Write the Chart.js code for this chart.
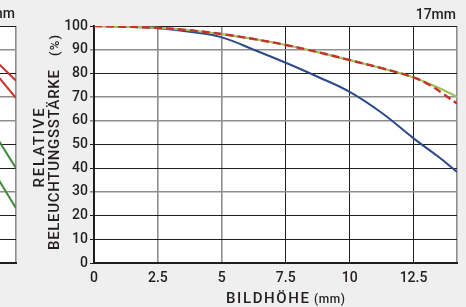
<!DOCTYPE html>
<html><head><meta charset="utf-8">
<script src="https://cdn.jsdelivr.net/npm/chart.js@4/dist/chart.umd.min.js"></script>
<style>
html,body{margin:0;padding:0;background:#efefef;overflow:hidden;}
#wrap{position:relative;width:466px;height:307px;overflow:hidden;background:#efefef;}
#main{position:absolute;left:0;top:0;}
#frag{position:absolute;left:-375px;top:0;}
</style></head>
<body><div id="wrap">
<canvas id="frag" width="400" height="307"></canvas>
<canvas id="main" width="466" height="307"></canvas>
</div>
<script>
// ---- data ----
const xTickValues = [0, 2.5, 5, 7.5, 10, 12.5];
const xMax = 14.2;
const yTickStep = 10;
const blueX = [0, 1.25, 2.5, 3.75, 5, 6.25, 7.5, 8.75, 10, 11.25, 12.5, 13.5, 14.2];
const blueY = [100, 99.7, 99.1, 97.6, 95.2, 90.0, 84.5, 78.6, 72.2, 63.4, 52.6, 44.6, 38.4];
const greenX = [0, 1.25, 2.5, 3.75, 5, 6.25, 7.5, 8.75, 10, 11.25, 12.5, 13.5, 14.2];
const greenY = [100, 99.7, 99.2, 98.2, 96.6, 94.5, 92.0, 89.0, 85.6, 82.2, 78.3, 73.8, 70.1];
const redX = [0, 1.25, 2.5, 3.75, 5, 6.25, 7.5, 8.75, 10, 11.25, 12.5, 13.15, 13.6, 14.2];
const redY = [100, 99.7, 99.2, 98.2, 96.6, 94.5, 92.0, 89.0, 85.6, 82.2, 78.3, 75.0, 71.8, 67.3];
// fragment of the neighbouring chart (left edge)
const fragRed1X = [13.0, 14.2], fragRed1Y = [87.3, 76.9];
const fragRed2X = [13.0, 14.2], fragRed2Y = [82.4, 69.6];
const fragGreen1X = [13.0, 14.2], fragGreen1Y = [57.0, 40.0];
const fragGreen2X = [13.0, 14.2], fragGreen2Y = [40.5, 23.1];
const lensLabel = "17mm";
const fragLabel = "mm";
const xTitle = "BILDHÖHE", xUnit = "(mm)";
const yTitle1 = "RELATIVE", yTitle2 = "BELEUCHTUNGSSTÄRKE", yUnit = "(%)";

const BLUE = '#2c4a8a', RED = '#c8302a', GREEN = '#9dc35c', INK = '#231f20';
const FONT = 'Roboto, "DejaVu Sans", sans-serif';

const pts = (xs, ys) => xs.map((x, i) => ({x: x, y: ys[i]}));
const grayY = [30, 60, 70, 90];
const grayX = [2.5, 5, xMax];

function gridY(ctx){ const v = ctx.tick && ctx.tick.value; return grayY.includes(v) ? '#8e8e8e' : '#1e1e1e'; }
function gridYW(ctx){ const v = ctx.tick && ctx.tick.value; return grayY.includes(v) ? 1.6 : 1; }
function gridX(ctx){ const v = ctx.tick && ctx.tick.value; return grayX.includes(v) ? '#8e8e8e' : '#1e1e1e'; }
function gridXW(ctx){ const v = ctx.tick && ctx.tick.value; return grayX.includes(v) ? 1.6 : 1; }

function scalesCfg(showLabels){
  return {
    x: {
      type: 'linear', min: 0, max: xMax,
      afterBuildTicks: s => { s.ticks = xTickValues.concat([xMax]).map(v => ({value: v})); },
      afterFit: s => { s.height = 44; },
      grid: { color: gridX, lineWidth: gridXW, drawTicks: false },
      border: { color: '#1e1e1e', width: 2 },
      ticks: { display: showLabels, padding: 7, color: INK, font: {family: FONT, size: 14, weight: '500'},
               maxRotation: 0, autoSkip: false,
               callback: v => xTickValues.includes(v) ? String(v) : '' }
    },
    y: {
      type: 'linear', min: 0, max: 100,
      ticks: { stepSize: yTickStep, display: showLabels, padding: 2, color: INK, font: {family: FONT, size: 14, weight: '500'} },
      afterFit: s => { s.width = 94; },
      grid: { color: gridY, lineWidth: gridYW, drawTicks: true, tickLength: 4 },
      border: { color: '#1e1e1e', width: 2 }
    }
  };
}

const plotBgPlugin = {
  id: 'plotbg',
  beforeDraw(chart){
    const {ctx, chartArea: a} = chart;
    ctx.save();
    ctx.fillStyle = '#ffffff'; ctx.fillRect(a.left, a.top, a.right - a.left, a.bottom - a.top);
    ctx.restore();
  }
};
const fullBgPlugin = {
  id: 'fullbg',
  beforeDraw(chart){
    const {ctx, chartArea: a} = chart;
    ctx.save(); ctx.fillStyle = '#efefef'; ctx.fillRect(0, 0, chart.width, chart.height);
    ctx.fillStyle = '#ffffff'; ctx.fillRect(a.left, a.top, a.right - a.left, a.bottom - a.top);
    ctx.restore();
  }
};

function spacedFit(ctx, text, target){
  ctx.letterSpacing = '0px';
  const w = ctx.measureText(text).width;
  const n = text.length - 1;
  const sp = Math.max(0, (target - w) / n);
  ctx.letterSpacing = sp + 'px';
  return w + sp * text.length;
}

const textPlugin = {
  id: 'texts',
  afterDraw(chart){
    const ctx = chart.ctx; const a = chart.chartArea;
    ctx.save();
    ctx.fillStyle = INK;
    // lens label
    ctx.font = '500 14px ' + FONT; ctx.textAlign = 'right'; ctx.textBaseline = 'alphabetic';
    ctx.fillText(lensLabel, a.right - 1, 19);
    // x title
    ctx.textAlign = 'left';
    ctx.font = '500 15px ' + FONT;
    spacedFit(ctx, xTitle, 83);
    ctx.fillText(xTitle, 226, 303);
    ctx.font = '500 12px ' + FONT; ctx.letterSpacing = '0.6px';
    ctx.fillText(xUnit, 314, 303);
    // y title line 1
    ctx.save();
    ctx.translate(43.5, 147); ctx.rotate(-Math.PI/2);
    ctx.font = '500 15px ' + FONT; spacedFit(ctx, yTitle1, 79); ctx.textAlign = 'center';
    ctx.fillText(yTitle1, 0, 0);
    ctx.restore();
    // y title line 2
    ctx.save();
    ctx.translate(58.5, 250); ctx.rotate(-Math.PI/2);
    ctx.font = '500 15px ' + FONT; ctx.textAlign = 'left';
    spacedFit(ctx, yTitle2, 180);
    ctx.fillText(yTitle2, 0, 0);
    ctx.font = '500 13px ' + FONT; ctx.letterSpacing = '1.2px';
    ctx.fillText(yUnit, 194, 0);
    ctx.restore();
    ctx.restore();
  }
};

const fragTextPlugin = {
  id: 'fragTexts',
  afterDraw(chart){
    const ctx = chart.ctx; const a = chart.chartArea;
    ctx.save(); ctx.fillStyle = INK;
    ctx.font = '500 14px ' + FONT; ctx.textAlign = 'right'; ctx.textBaseline = 'alphabetic';
    ctx.fillText(fragLabel, a.right - 1, 18);
    ctx.restore();
  }
};

const common = {
  responsive: false, animation: false, devicePixelRatio: 1,
  layout: { padding: { left: 0, right: 9, top: 26, bottom: 0 } },
  plugins: { legend: { display: false }, tooltip: { enabled: false }, title: { display: false } },
  elements: { point: { radius: 0 } }
};

new Chart(document.getElementById('main'), {
  type: 'line',
  data: { datasets: [
    { data: pts(redX, redY), borderColor: RED, borderWidth: 2.4, borderDash: [8, 4], tension: 0.4, fill: false },
    { data: pts(greenX, greenY), borderColor: GREEN, borderWidth: 2.2, tension: 0.4, fill: false },
    { data: pts(blueX, blueY), borderColor: BLUE, borderWidth: 2, tension: 0.4, fill: false }
  ]},
  options: Object.assign({}, common, { scales: scalesCfg(true) }),
  plugins: [plotBgPlugin, textPlugin]
});

new Chart(document.getElementById('frag'), {
  type: 'line',
  data: { datasets: [
    { data: pts(fragRed1X, fragRed1Y), borderColor: RED, borderWidth: 2, fill: false },
    { data: pts(fragRed2X, fragRed2Y), borderColor: RED, borderWidth: 2, fill: false },
    { data: pts(fragGreen1X, fragGreen1Y), borderColor: '#3d8a3a', borderWidth: 2, fill: false },
    { data: pts(fragGreen2X, fragGreen2Y), borderColor: '#3d8a3a', borderWidth: 2, fill: false }
  ]},
  options: Object.assign({}, common, { scales: scalesCfg(false) }),
  plugins: [fullBgPlugin, fragTextPlugin]
});
</script>
</body></html>
